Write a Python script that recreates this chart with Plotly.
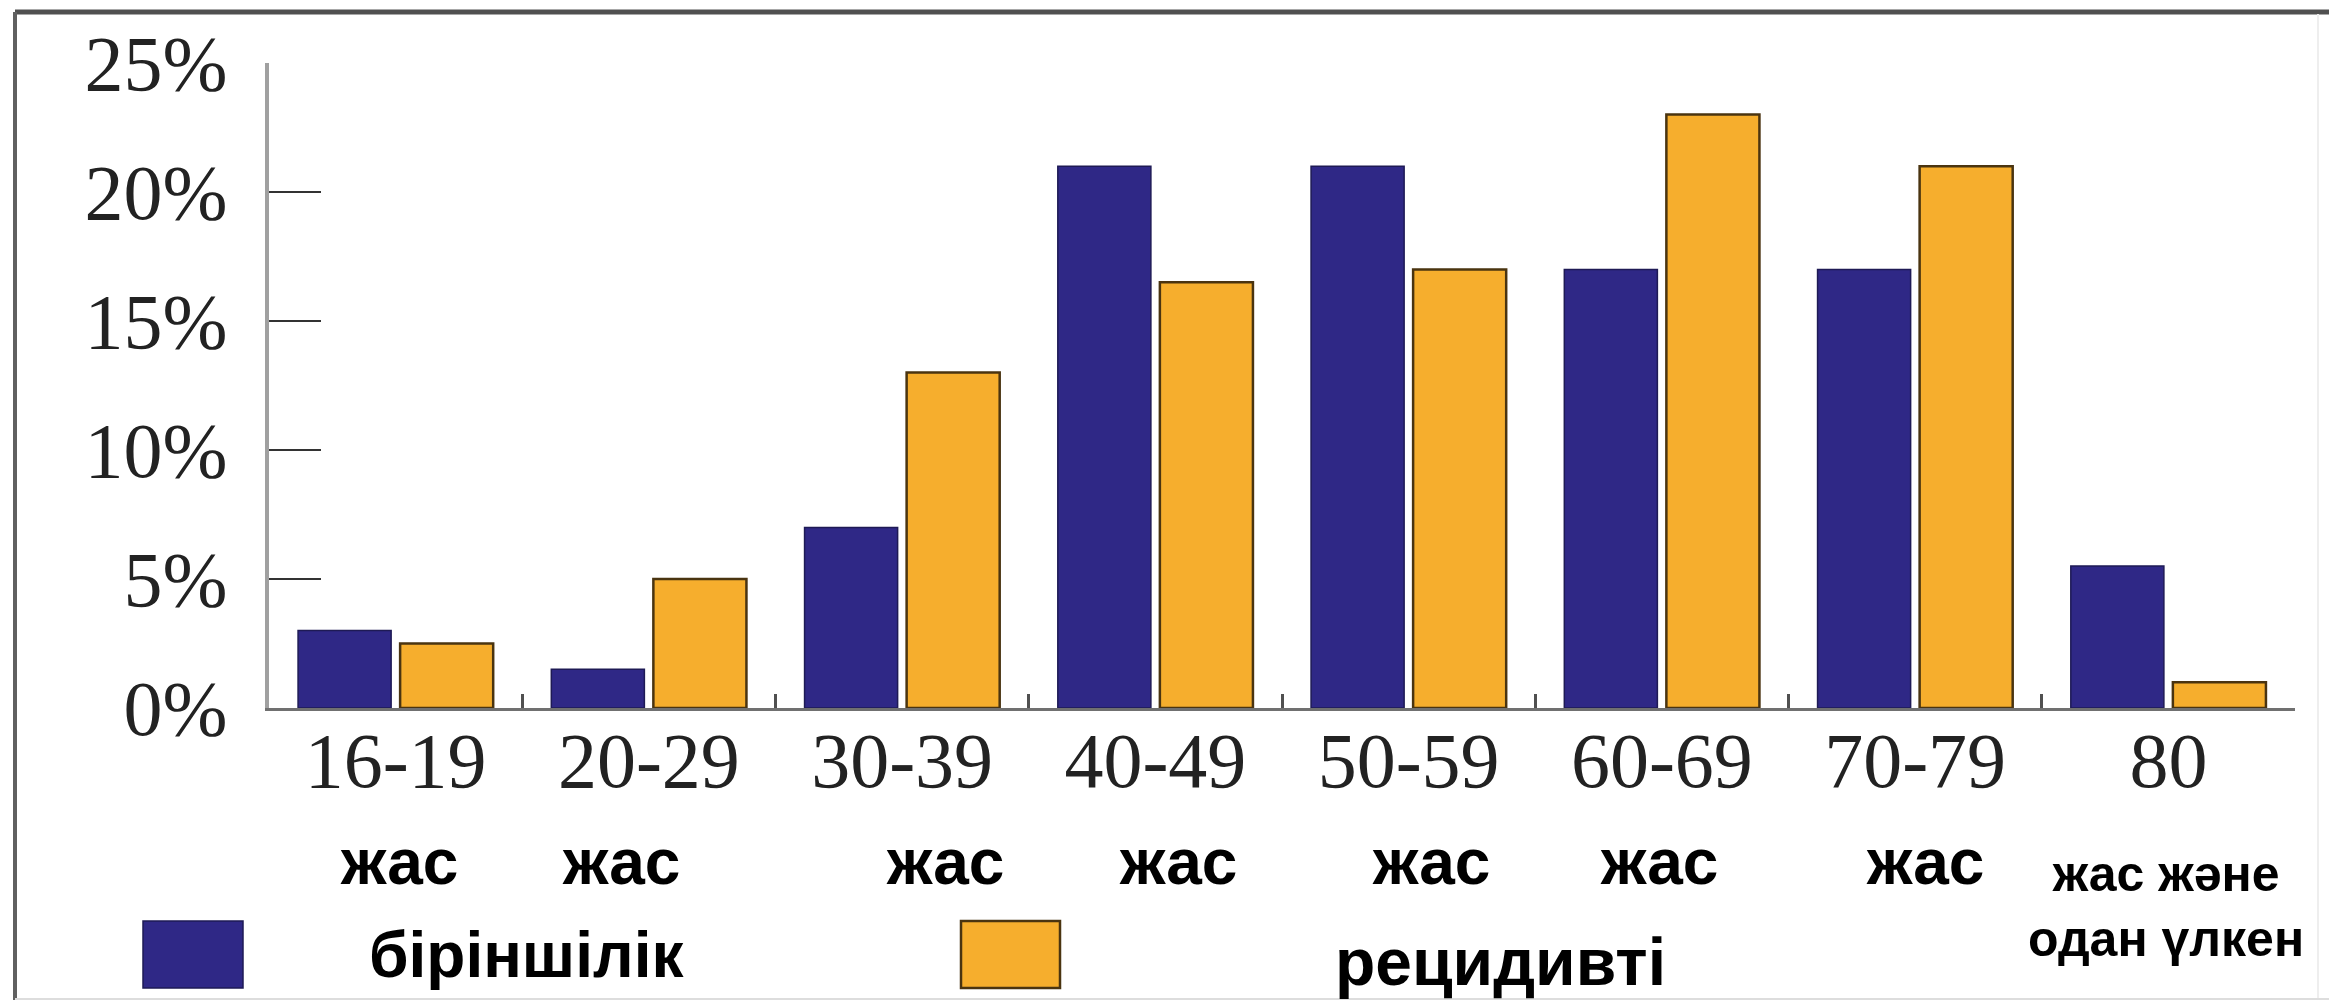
import plotly.graph_objects as go

# Age groups and the share of patients in each (percent)
age_groups = ["16-19", "20-29", "30-39", "40-49", "50-59", "60-69", "70-79", "80"]
primary = [3, 1.5, 7, 21, 21, 17, 17, 5.5]       # біріншілік
recurrent = [2.5, 5, 13, 16.5, 17, 23, 21, 1]    # рецидивті

y_ticks = [0, 5, 10, 15, 20, 25]
y_tick_labels = ["0%", "5%", "10%", "15%", "20%", "25%"]

series_names = ["біріншілік", "рецидивті"]
age_word = "жас"
last_group_words = "жас және<br>одан үлкен"

BLUE = "#2f2886"
ORANGE = "#f6ae2d"
BLUE_EDGE = "#1e1a55"
ORANGE_EDGE = "#4a3410"

SERIF = "Liberation Serif, Times New Roman, serif"
SANS_BOLD = "Liberation Sans Narrow, Arial Narrow, Liberation Sans, Arial, sans-serif"

W, H = 2329, 1002
M_L, M_R, M_T, M_B = 269, 34, 63, 294
PW = W - M_L - M_R
PH = H - M_T - M_B


def px_x(p):
    """Horizontal pixel position -> paper coordinate."""
    return (p - M_L) / PW


def px_y(p):
    """Vertical pixel position (from top) -> paper coordinate."""
    return (H - M_B - p) / PH


fig = go.Figure()
fig.add_trace(go.Bar(
    x=age_groups, y=primary, name=series_names[0],
    marker=dict(color=BLUE, line=dict(color=BLUE_EDGE, width=1.5)),
    showlegend=False,
))
fig.add_trace(go.Bar(
    x=age_groups, y=recurrent, name=series_names[1],
    marker=dict(color=ORANGE, line=dict(color=ORANGE_EDGE, width=2.5)),
    showlegend=False,
))

# "жас" captions under each age range
word_x = [0.015, 0.89, 2.17, 3.09, 4.09, 4.99, 6.04]
annotations = []
for xv in word_x:
    annotations.append(dict(
        x=xv, xref="x", y=px_y(862), yref="paper",
        text=f"<b>{age_word}</b>", showarrow=False,
        xanchor="center", yanchor="middle",
        font=dict(family=SANS_BOLD, size=64, color="black"),
    ))
annotations.append(dict(
    x=6.99, xref="x", y=px_y(906), yref="paper",
    text=f"<b>{last_group_words}</b>", showarrow=False,
    xanchor="center", yanchor="middle",
    font=dict(family=SANS_BOLD, size=50, color="black"),
))

# legend captions
annotations.append(dict(
    x=px_x(526), xref="paper", y=px_y(955), yref="paper",
    text=f"<b>{series_names[0]}</b>", showarrow=False,
    xanchor="center", yanchor="middle",
    font=dict(family=SANS_BOLD, size=64, color="black"),
))
annotations.append(dict(
    x=px_x(1500), xref="paper", y=px_y(962), yref="paper",
    text=f"<b>{series_names[1]}</b>", showarrow=False,
    xanchor="center", yanchor="middle",
    font=dict(family=SANS_BOLD, size=66, color="black"),
))

shapes = [
    # legend swatches
    dict(type="rect", xref="paper", yref="paper",
         x0=px_x(143), x1=px_x(243), y0=px_y(988), y1=px_y(921),
         fillcolor=BLUE, line=dict(color=BLUE_EDGE, width=1.5)),
    dict(type="rect", xref="paper", yref="paper",
         x0=px_x(961), x1=px_x(1060), y0=px_y(988), y1=px_y(921),
         fillcolor=ORANGE, line=dict(color=ORANGE_EDGE, width=2.5)),
    # outer frame
    dict(type="line", xref="paper", yref="paper",
         x0=px_x(15), x1=px_x(2329), y0=px_y(12), y1=px_y(12),
         line=dict(color="#505050", width=5)),
    dict(type="line", xref="paper", yref="paper",
         x0=px_x(15), x1=px_x(15), y0=px_y(12), y1=px_y(1000),
         line=dict(color="#606060", width=4)),
    dict(type="line", xref="paper", yref="paper",
         x0=px_x(2318), x1=px_x(2318), y0=px_y(14), y1=px_y(1000),
         line=dict(color="#eeeeee", width=2)),
    dict(type="line", xref="paper", yref="paper",
         x0=px_x(15), x1=px_x(2329), y0=px_y(999), y1=px_y(999),
         line=dict(color="#dddddd", width=2)),
]

fig.update_layout(
    width=W, height=H,
    margin=dict(l=M_L, r=M_R, t=M_T, b=M_B),
    paper_bgcolor="white", plot_bgcolor="white",
    barmode="group", bargap=0.194, bargroupgap=0.088,
    annotations=annotations, shapes=shapes,
    xaxis=dict(
        type="category", range=[-0.5, 7.5],
        showline=True, linecolor="#707070", linewidth=3,
        ticks="inside", tickson="boundaries", ticklen=14, tickwidth=3,
        tickcolor="#505050",
        tickfont=dict(family=SERIF, size=78, color="#222222"),
        ticklabelstandoff=-18,
        showgrid=False, zeroline=False,
    ),
    yaxis=dict(
        range=[0, 25],
        tickvals=y_ticks, ticktext=y_tick_labels,
        showline=True, linecolor="#a0a0a0", linewidth=4,
        ticks="inside", ticklen=52, tickwidth=2, tickcolor="#333333",
        tickfont=dict(family=SERIF, size=78, color="#222222"),
        ticklabelstandoff=22,
        showgrid=False, zeroline=False,
    ),
)

fig.write_html("out.html")
